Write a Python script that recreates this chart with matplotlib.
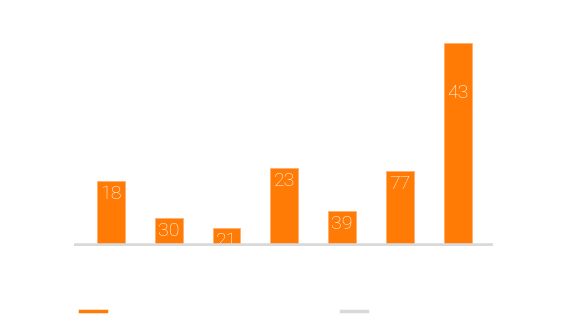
import matplotlib.pyplot as plt
from matplotlib.lines import Line2D

categories = ["A", "B", "C", "D", "E", "F", "G"]
bar_values = [65, 28, 18, 78, 35, 75, 203]
bar_labels = ["18", "30", "21", "23", "39", "77", "43"]

ORANGE = "#ff7b06"
GREY = "#d9d9d9"

fig = plt.figure(figsize=(5.62, 3.25), dpi=100)
ax = fig.add_axes([74 / 562, (325 - 246) / 325, (493 - 74) / 562, 203 / 325])

x = range(len(categories))
ax.bar(x, bar_values, width=0.48, color=ORANGE, edgecolor="#ffb070", linewidth=0.6, zorder=2)

for xi, v, lab in zip(x, bar_values, bar_labels):
    y = min(v, 166)
    ax.annotate(lab, (xi, y), xytext=(0, -3), textcoords="offset points",
                ha="center", va="top", color="white", fontsize=14,
                family="Roboto", fontweight="light", zorder=3)

ax.set_xlim(-0.64, 6.61)
ax.set_ylim(0, 203)
ax.axhline(0, color=GREY, lw=4, zorder=3)
for s in ax.spines.values():
    s.set_visible(False)
ax.set_xticks([])
ax.set_yticks([])

# legend swatches
fig.add_artist(Line2D([80 / 562, 106 / 562], [1 - 311 / 325] * 2, color=ORANGE, lw=2.5))
fig.add_artist(Line2D([341 / 562, 367 / 562], [1 - 311 / 325] * 2, color=GREY, lw=2.5))

fig.savefig("out.png", dpi=100)
